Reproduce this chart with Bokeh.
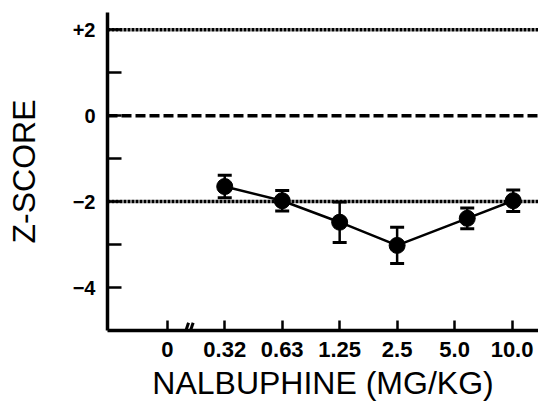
from bokeh.plotting import figure
from bokeh.models import (Range1d, FixedTicker, Span, Whisker, ColumnDataSource,
                          TeeHead, Arrow)
from bokeh.embed import file_html
from bokeh.resources import INLINE

# ---- data ----
dose_labels = ["0", "0.32", "0.63", "1.25", "2.5", "5.0", "10.0"]
dose_ticks = [0, 1, 2, 3, 4, 5, 6]
point_x = [1.0, 2.0, 3.0, 4.0, 5.22, 6.02]
z_mean = [-1.65, -1.98, -2.48, -3.02, -2.39, -1.98]
z_err = [0.26, 0.24, 0.47, 0.42, 0.24, 0.25]
y_ticks = [-4, -3, -2, -1, 0, 1, 2]
y_tick_labels = {-4: "\u22124", -2: "\u22122", 0: "0", 2: "+2"}
ref_levels = [2, 0, -2]
ref_dash = ["3 1", "10 4", "3 1"]
break_x = [0.30, 0.38]

FONT = "Liberation Sans"

p = figure(width=538, height=408, output_backend="svg", toolbar_location=None,
           x_range=Range1d(-1.04, 6.46), y_range=Range1d(-5, 2.4),
           min_border_left=107, min_border_right=0, min_border_top=12,
           min_border_bottom=78)
p.outline_line_color = None
p.grid.visible = False
p.background_fill_color = "white"

# axes
p.xaxis.ticker = FixedTicker(ticks=dose_ticks)
p.xaxis.major_label_overrides = {t: l for t, l in zip(dose_ticks, dose_labels)}
p.yaxis.ticker = FixedTicker(ticks=y_ticks)
p.yaxis.major_label_overrides = {t: y_tick_labels.get(t, "") for t in y_ticks}
for ax in (p.xaxis, p.yaxis):
    ax.axis_line_width = 3.5
    ax.axis_line_color = "black"
    ax.major_tick_line_width = 2.5
    ax.major_tick_line_color = "black"
    ax.major_tick_out = 0
    ax.minor_tick_line_color = None
    ax.major_label_text_font = FONT
    ax.major_label_text_font_style = "bold"
    ax.major_label_text_color = "black"
    ax.axis_label_text_font = FONT
    ax.axis_label_text_font_style = "normal"
    ax.axis_label_text_font_size = "32px"
    ax.axis_label_text_color = "black"
p.yaxis.major_tick_in = 14
p.xaxis.major_tick_in = 10
p.yaxis.major_label_text_font_size = "20px"
p.xaxis.major_label_text_font_size = "22px"
p.yaxis.major_label_standoff = 12
p.xaxis.major_label_standoff = 11
p.yaxis.axis_label = "Z-SCORE"
p.xaxis.axis_label = "NALBUPHINE (MG/KG)"
p.yaxis.axis_label_standoff = 28
p.xaxis.axis_label_standoff = 5

# reference lines
for lev, dash in zip(ref_levels, ref_dash):
    p.add_layout(Span(location=lev, dimension="width", line_color="black",
                      line_width=3.5, line_dash=dash))

# data
src = ColumnDataSource(dict(x=point_x, y=z_mean,
                            upper=[m + e for m, e in zip(z_mean, z_err)],
                            lower=[m - e for m, e in zip(z_mean, z_err)]))
p.add_layout(Whisker(source=src, base="x", upper="upper", lower="lower",
                     dimension="height", line_width=2.5, line_color="black",
                     upper_head=TeeHead(size=14, line_width=3, line_color="black"),
                     lower_head=TeeHead(size=14, line_width=3, line_color="black")))
p.line("x", "y", source=src, line_width=2.5, line_color="black")
p.scatter("x", "y", source=src, size=16, fill_color="black", line_color="black")

# axis break marks
for xs in break_x:
    p.add_layout(Arrow(x_start=xs, y_start=-5.1, x_end=xs + 0.07, y_end=-4.82,
                       end=None, line_width=3, line_color="black", level="overlay"))

open("out.html", "w").write(file_html(p, INLINE))
